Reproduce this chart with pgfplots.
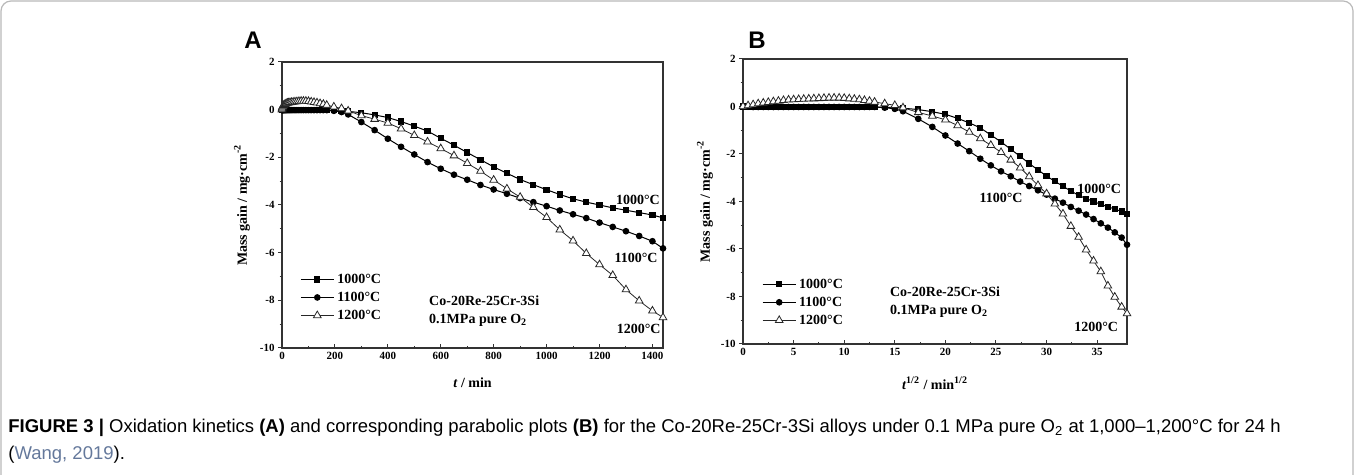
\documentclass[border=0pt]{standalone}
\usepackage{fontspec}
\setmainfont{Liberation Serif}
\newfontfamily\capfont{Liberation Sans}
\usepackage{pgfplots}
\pgfplotsset{compat=1.18}
\usepackage{pgfplotstable}

\pgfplotstableread{
t s y
0 0 0
0.25 0.5 -0.01
1 1 -0.02
2.25 1.5 -0.02
4 2 -0.03
6.25 2.5 -0.03
9 3 -0.03
12.25 3.5 -0.03
16 4 -0.03
20.25 4.5 -0.03
25 5 -0.03
30.25 5.5 -0.03
36 6 -0.03
42.25 6.5 -0.03
49 7 -0.03
56.25 7.5 -0.03
64 8 -0.03
72.25 8.5 -0.03
81 9 -0.03
90.25 9.5 -0.03
100 10 -0.03
110.25 10.5 -0.03
121 11 -0.03
132.25 11.5 -0.03
144 12 -0.03
156.25 12.5 -0.03
169 13 -0.03
196 14 -0.03
225 15 -0.05
250 15.81 -0.07
300 17.32 -0.13
350 18.71 -0.22
400 20 -0.33
450 21.21 -0.5
500 22.36 -0.69
550 23.45 -0.9
600 24.49 -1.2
650 25.50 -1.49
700 26.46 -1.8
750 27.39 -2.1
800 28.28 -2.4
850 29.15 -2.67
900 30 -2.93
950 30.82 -3.15
1000 31.62 -3.36
1050 32.40 -3.56
1100 33.17 -3.74
1150 33.91 -3.88
1200 34.64 -4.0
1250 35.36 -4.12
1300 36.06 -4.22
1350 36.74 -4.32
1400 37.42 -4.42
1440 37.95 -4.54
}\dataK

\pgfplotstableread{
t s y
0 0 0
0.25 0.5 -0.01
1 1 -0.02
2.25 1.5 -0.02
4 2 -0.02
6.25 2.5 -0.02
9 3 -0.02
12.25 3.5 -0.02
16 4 -0.02
20.25 4.5 -0.02
25 5 -0.02
30.25 5.5 -0.02
36 6 -0.02
42.25 6.5 -0.02
49 7 -0.02
56.25 7.5 -0.02
64 8 -0.02
72.25 8.5 -0.02
81 9 -0.02
90.25 9.5 -0.02
100 10 -0.02
110.25 10.5 -0.02
121 11 -0.02
132.25 11.5 -0.02
144 12 -0.02
156.25 12.5 -0.02
169 13 -0.02
196 14 -0.05
225 15 -0.1
250 15.81 -0.2
300 17.32 -0.52
350 18.71 -0.86
400 20 -1.22
450 21.21 -1.56
500 22.36 -1.88
550 23.45 -2.2
600 24.49 -2.48
650 25.50 -2.73
700 26.46 -2.94
750 27.39 -3.16
800 28.28 -3.35
850 29.15 -3.53
900 30 -3.71
950 30.82 -3.88
1000 31.62 -4.05
1050 32.40 -4.23
1100 33.17 -4.39
1150 33.91 -4.55
1200 34.64 -4.74
1250 35.36 -4.92
1300 36.06 -5.1
1350 36.74 -5.3
1400 37.42 -5.52
1440 37.95 -5.82
}\dataL

\pgfplotstableread{
t s y
0 0 0
0.25 0.5 0.04
1 1 0.08
2.25 1.5 0.12
4 2 0.15
6.25 2.5 0.18
9 3 0.21
12.25 3.5 0.23
16 4 0.26
20.25 4.5 0.28
25 5 0.29
30.25 5.5 0.30
36 6 0.31
42.25 6.5 0.32
49 7 0.33
56.25 7.5 0.34
64 8 0.35
72.25 8.5 0.36
81 9 0.36
90.25 9.5 0.36
100 10 0.35
110.25 10.5 0.33
121 11 0.31
132.25 11.5 0.29
144 12 0.26
156.25 12.5 0.23
169 13 0.19
196 14 0.12
225 15 0.05
250 15.81 -0.05
300 17.32 -0.25
350 18.71 -0.4
400 20 -0.56
450 21.21 -0.8
500 22.36 -1.08
550 23.45 -1.35
600 24.49 -1.63
650 25.50 -1.93
700 26.46 -2.25
750 27.39 -2.58
800 28.28 -2.95
850 29.15 -3.32
900 30 -3.67
950 30.82 -4.1
1000 31.62 -4.52
1050 32.40 -5.04
1100 33.17 -5.5
1150 33.91 -6.03
1200 34.64 -6.5
1250 35.36 -6.95
1300 36.06 -7.55
1350 36.74 -8.02
1400 37.42 -8.44
1440 37.95 -8.72
}\dataM

\tikzset{clab/.style={font=\bfseries\fontsize{7}{8}\selectfont, inner sep=0pt}}

\pgfplotsset{
  kin/.style={
    scale only axis,
    axis line style={line width=0.6pt, draw=black!80},
    tick style={black!80, line width=0.5pt},
    xtick pos=bottom, ytick pos=left,
    xtick align=inside, ytick align=outside,
    major tick length=2pt, minor tick length=1.2pt,
    ymin=-10, ymax=2, ytick={-10,-8,...,2}, minor y tick num=1,
    minor x tick num=1,
    /pgf/number format/assume math mode=true,
    /pgf/number format/1000 sep={},
    tick label style={font=\bfseries\fontsize{5.5}{6}\selectfont},
    yticklabel style={inner sep=1.5pt},
    xticklabel style={inner sep=2pt},
    label style={font=\bfseries\fontsize{7}{8}\selectfont},
    legend style={draw=none, fill=none, inner sep=0pt,
      anchor=north west,
      font=\bfseries\fontsize{7}{8}\selectfont,
      row sep=1pt, column sep=1pt,
      nodes={inner sep=0.5pt, text height=5.5pt, text depth=1.5pt},
      cells={anchor=west}},
    legend image code/.code={\draw[mark repeat=2,mark phase=2,##1] plot coordinates {(0pt,0pt) (8.25pt,0pt) (16.5pt,0pt)};},
  },
  sK/.style={black, line width=0.5pt, mark=square*, mark size=1.3pt, mark options={fill=black}},
  sL/.style={black, line width=0.5pt, mark=*, mark size=1.4pt, mark options={fill=black}},
  sM/.style={black!85, line width=0.4pt, mark=triangle*, mark size=2.2pt, mark options={fill=white, draw=black!85}},
}

\begin{document}
\begin{tikzpicture}
\useasboundingbox (0,0) rectangle (677pt,237.5pt);
\draw[gray!55, line width=0.6pt, rounded corners=5pt] (0.5pt,-10pt) rectangle (676.5pt,237pt);

\node[font=\capfont\bfseries\fontsize{12}{14}\selectfont, inner sep=0pt] at (126.5pt,217.5pt) {A};
\node[font=\capfont\bfseries\fontsize{12}{14}\selectfont, inner sep=0pt] at (378.5pt,217.5pt) {B};

\begin{axis}[kin, at={(141pt,63.5pt)}, anchor=south west,
  width=190.5pt, height=143pt,
  xmin=0, xmax=1440, xtick={0,200,...,1400},
  xlabel={\textit{t} / min},
  xlabel style={at={(axis description cs:0.5,0)}, anchor=center, yshift=-17.5pt},
  ylabel={Mass gain / mg·cm\textsuperscript{-2}},
  ylabel style={at={(axis description cs:-0.105,0.5)}, anchor=center},
  legend style={at={(0.047,0.269)}},
]
\addplot[sK] table[x=t, y=y] {\dataK};
\addplot[sL] table[x=t, y=y] {\dataL};
\addplot[sM] table[x=t, y=y] {\dataM};
\legend{1000°C, 1100°C, 1200°C}
\node[clab] at (axis cs:1345,-3.78) {1000°C};
\node[clab] at (axis cs:1338,-6.22) {1100°C};
\node[clab] at (axis cs:1348,-9.2) {1200°C};
\node[clab, anchor=west] at (axis cs:555,-8.0) {Co-20Re-25Cr-3Si};
\node[clab, anchor=west] at (axis cs:555,-8.83) {0.1MPa pure O\textsubscript{2}};
\end{axis}

\begin{axis}[kin, at={(371.5pt,65.5pt)}, anchor=south west,
  width=192pt, height=142.5pt,
  xmin=0, xmax=37.95, xtick={0,5,...,35},
  xlabel={\textit{t}\textsuperscript{1/2} / min\textsuperscript{1/2}},
  xlabel style={at={(axis description cs:0.5,0)}, anchor=center, yshift=-19.5pt},
  ylabel={Mass gain / mg·cm\textsuperscript{-2}},
  ylabel style={at={(axis description cs:-0.099,0.5)}, anchor=center},
  legend style={at={(0.049,0.239)}},
]
\addplot[sK] table[x=s, y=y] {\dataK};
\addplot[sL] table[x=s, y=y] {\dataL};
\addplot[sM] table[x=s, y=y] {\dataM};
\legend{1000°C, 1100°C, 1200°C}
\node[clab] at (axis cs:35.2,-3.48) {1000°C};
\node[clab] at (axis cs:25.5,-3.86) {1100°C};
\node[clab] at (axis cs:34.9,-9.26) {1200°C};
\node[clab, anchor=west] at (axis cs:14.5,-7.8) {Co-20Re-25Cr-3Si};
\node[clab, anchor=west] at (axis cs:14.5,-8.64) {0.1MPa pure O\textsubscript{2}};
\end{axis}

\node[anchor=base west, inner sep=0pt, font=\capfont\fontsize{9.25}{11}\selectfont] at (4pt,21pt)
  {\textbf{FIGURE 3 |} Oxidation kinetics \textbf{(A)} and corresponding parabolic plots \textbf{(B)} for the Co-20Re-25Cr-3Si alloys under 0.1 MPa pure O\textsubscript{2} at 1,000–1,200°C for 24 h};
\node[anchor=base west, inner sep=0pt, font=\capfont\fontsize{9.25}{11}\selectfont] at (4pt,7.5pt)
  {(\textcolor[RGB]{100,120,155}{Wang, 2019}).};
\end{tikzpicture}
\end{document}
